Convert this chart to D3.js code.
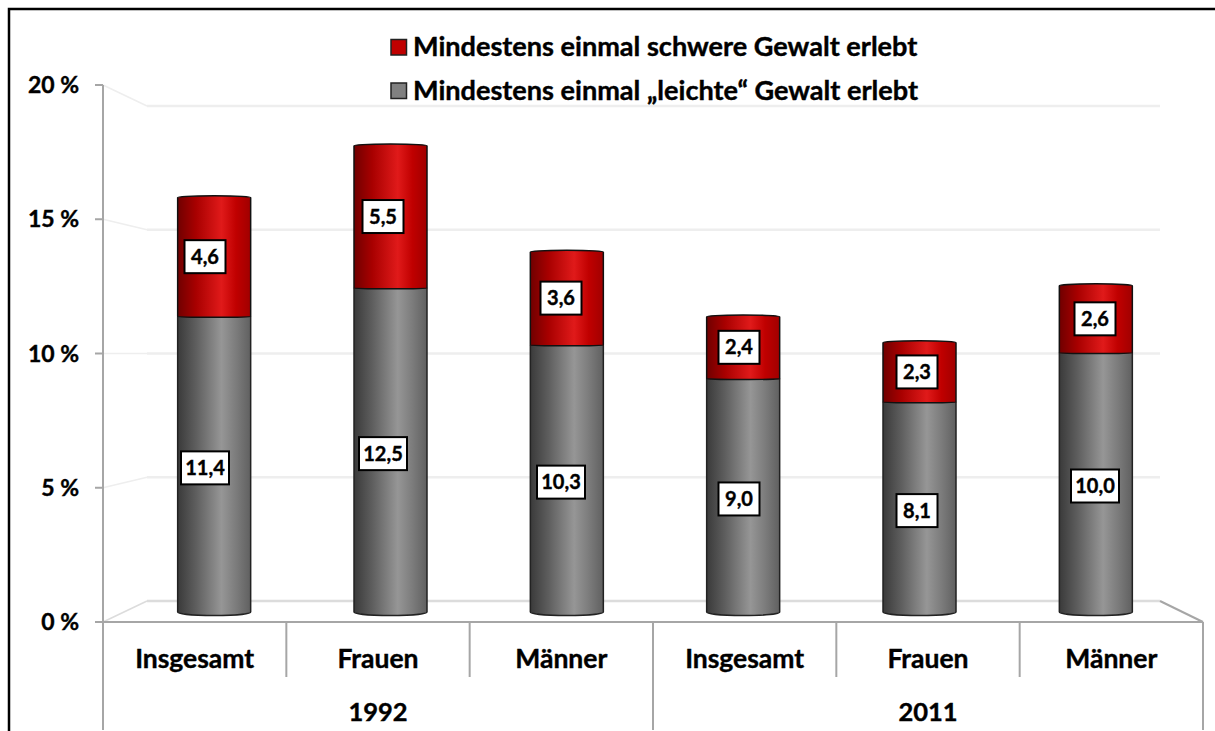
<!DOCTYPE html>
<html><head><meta charset="utf-8">
<script src="https://cdn.jsdelivr.net/npm/d3@7"></script>
<style>html,body{margin:0;padding:0;background:#fff}svg{display:block}text{font-family:Lato,"Open Sans",sans-serif;font-weight:700;fill:#000;stroke:#000;stroke-width:.4px}</style>
</head><body><div id="c"></div>
<script>
const categories=["Insgesamt","Frauen","Männer","Insgesamt","Frauen","Männer"];
const years=["1992","2011"];
const lightValues=[11.4,12.5,10.3,9.0,8.1,10.0];
const severeValues=[4.6,5.5,3.6,2.4,2.3,2.6];
const yTicks=[0,5,10,15,20];
const legendLabels=["Mindestens einmal schwere Gewalt erlebt","Mindestens einmal „leichte“ Gewalt erlebt"];
const fmt=v=>v.toFixed(1).replace(".",",");

const W=1215,H=731;
const svg=d3.select("#c").append("svg").attr("width",W).attr("height",H);
const defs=svg.append("defs");
function grad(id,stops){const g=defs.append("linearGradient").attr("id",id).attr("x1",0).attr("x2",1).attr("y1",0).attr("y2",0);
 stops.forEach(s=>g.append("stop").attr("offset",s[0]).attr("stop-color",s[1]));}
grad("gGray",[[0,"#3a3a3a"],[.25,"#5e5e5e"],[.6,"#969696"],[.8,"#7c7c7c"],[1,"#606060"]]);
grad("gRed",[[0,"#700000"],[.25,"#a80000"],[.6,"#e01a1a"],[.8,"#c00000"],[1,"#a00000"]]);

svg.append("path").attr("d",`M9,${H}V9H${W}`).attr("fill","none").attr("stroke","#000").attr("stroke-width",2.5);

const yFront=d3.scaleLinear().domain([0,20]).range([622,85]);
const yBack=d3.scaleLinear().domain([0,20]).range([601,106]);
const yBar=d3.scaleLinear().domain([0,20]).range([612,94]);
const idx=categories.map((_,i)=>i);
const xFront=d3.scaleBand().domain(idx).range([103,1203]);
const xBar=d3.scaleBand().domain(idx).range([126,1184]);
const xLabel=d3.scaleBand().domain(idx).range([116,1184]);
const backL=147,backR=1160,frontL=xFront.range()[0],frontR=xFront.range()[1];

yTicks.forEach(t=>{
 const c=t===0?"#dcdcdc":"#eeeeee";
 svg.append("line").attr("x1",backL).attr("x2",backR).attr("y1",yBack(t)).attr("y2",yBack(t)).attr("stroke",c).attr("stroke-width",2.5);
 svg.append("line").attr("x1",frontL).attr("x2",backL).attr("y1",yFront(t)).attr("y2",yBack(t)).attr("stroke",c).attr("stroke-width",1.5);
});
svg.append("line").attr("x1",backR).attr("x2",frontR).attr("y1",yBack(0)).attr("y2",yFront(0)).attr("stroke","#a6a6a6").attr("stroke-width",2);

const ax="#a6a6a6";
svg.append("line").attr("x1",frontL-8).attr("x2",frontR).attr("y1",yFront(0)).attr("y2",yFront(0)).attr("stroke",ax).attr("stroke-width",2);
svg.append("line").attr("x1",frontL).attr("x2",frontL).attr("y1",yFront(20)).attr("y2",730).attr("stroke",ax).attr("stroke-width",2);
yTicks.forEach(t=>{
 svg.append("line").attr("x1",frontL-8).attr("x2",frontL).attr("y1",yFront(t)).attr("y2",yFront(t)).attr("stroke",ax).attr("stroke-width",2);
 svg.append("text").attr("x",79).attr("y",yFront(t)+8).attr("text-anchor","end").attr("font-size",23).text(t+" %");
});
idx.slice(1).forEach(i=>{
 svg.append("line").attr("x1",xFront(i)).attr("x2",xFront(i)).attr("y1",yFront(0)).attr("y2",i===3?730:677).attr("stroke",ax).attr("stroke-width",2);
});
svg.append("line").attr("x1",frontR).attr("x2",frontR).attr("y1",yFront(0)).attr("y2",730).attr("stroke",ax).attr("stroke-width",2);
categories.forEach((c,i)=>{
 svg.append("text").attr("x",xFront(i)+xFront.bandwidth()/2).attr("y",668).attr("text-anchor","middle").attr("font-size",26.5).text(c);
});
years.forEach((y,i)=>{
 svg.append("text").attr("x",xFront(i*3)+xFront.bandwidth()*1.5).attr("y",721).attr("text-anchor","middle").attr("font-size",25.5).text(y);
});

const bw=73,ryTop=1.8,ryBot=3.5;
function seg(cx,top,bot,rb){const l=cx-bw/2,r=cx+bw/2;
 return `M${l},${top}A${bw/2},${ryTop} 0 0 1 ${r},${top}V${bot}A${bw/2},${rb} 0 0 1 ${l},${bot}Z`;}
idx.forEach(i=>{
 const cx=xBar(i)+xBar.bandwidth()/2,a=lightValues[i],b=severeValues[i];
 svg.append("path").attr("d",seg(cx,yBar(a),yBar(0),ryBot)).attr("fill","url(#gGray)").attr("stroke","#222").attr("stroke-width",1.5);
 svg.append("path").attr("d",seg(cx,yBar(a+b),yBar(a),.6)).attr("fill","url(#gRed)").attr("stroke","#111").attr("stroke-width",1.5);
 const lx=xLabel(i)+xLabel.bandwidth()/2;
 [[a,0,3.5],[b,a,-.5]].forEach(([v,base,off])=>{
  const ly=(yBar(base)+yBar(base+v))/2+off;
  const w=v>=10?48:41,h=33;
  svg.append("rect").attr("x",lx-w/2).attr("y",ly-h/2).attr("width",w).attr("height",h).attr("fill","#fff").attr("stroke","#000").attr("stroke-width",2);
  svg.append("text").attr("x",lx).attr("y",ly+7).attr("text-anchor","middle").attr("font-size",20).text(fmt(v));
 });
});

const legColors=["#c00000","#808080"];
legendLabels.forEach((l,i)=>{
 const y=47+i*43.5;
 svg.append("rect").attr("x",391).attr("y",y-7.5).attr("width",15.5).attr("height",15.5).attr("fill",legColors[i]).attr("stroke","#222").attr("stroke-width",1.5);
 svg.append("text").attr("x",413).attr("y",y+9).attr("font-size",27.1).text(l);
});
</script></body></html>
